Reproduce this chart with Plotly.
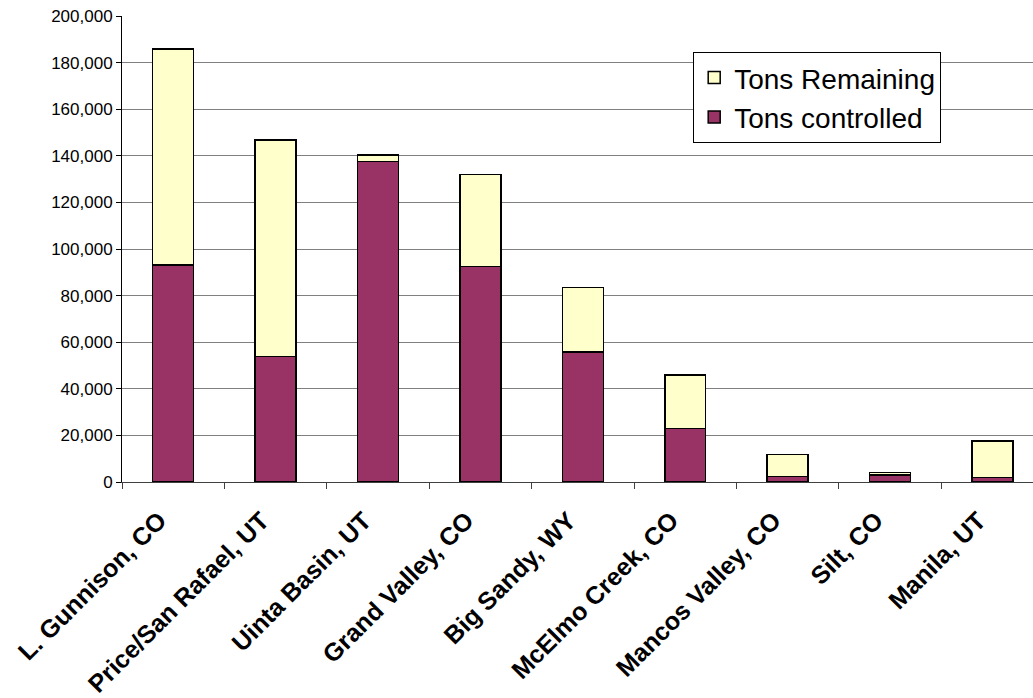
import plotly.graph_objects as go

categories = ["L. Gunnison, CO", "Price/San Rafael, UT", "Uinta Basin, UT", "Grand Valley, CO",
              "Big Sandy, WY", "McElmo Creek, CO", "Mancos Valley, CO", "Silt, CO", "Manila, UT"]
tons_controlled = [93100, 53800, 137500, 92400, 55800, 23000, 2300, 2900, 2000]
tons_remaining = [92700, 93000, 2800, 39600, 27750, 22900, 9600, 1100, 15500]
y_ticks = [0, 20000, 40000, 60000, 80000, 100000, 120000, 140000, 160000, 180000, 200000]

FONT = "Arial, Liberation Sans, sans-serif"

fig = go.Figure()
fig.add_trace(go.Bar(
    x=categories, y=tons_controlled, name="Tons controlled",
    marker=dict(color="#993366", line=dict(color="black", width=1.5)),
    width=0.4,
))
fig.add_trace(go.Bar(
    x=categories, y=tons_remaining, name="Tons Remaining",
    marker=dict(color="#FFFFCC", line=dict(color="black", width=1.5)),
    width=0.4,
))

fig.update_layout(
    width=1033, height=698,
    barmode="stack",
    plot_bgcolor="white", paper_bgcolor="white",
    margin=dict(l=122, r=0, t=16, b=216),
    font=dict(family=FONT, color="black"),
    legend=dict(
        traceorder="reversed",
        x=0.627, y=0.923, xanchor="left", yanchor="top",
        bgcolor="white", bordercolor="black", borderwidth=1,
        font=dict(family=FONT, size=28, color="black"),
        tracegroupgap=0,
        itemwidth=30,
    ),
    showlegend=True,
)
fig.update_xaxes(
    type="category",
    range=[-0.5, 8.396],
    showgrid=False,
    showline=True, linecolor="#404040", linewidth=1,
    ticks="outside", tickson="boundaries", ticklen=6, tickcolor="#404040",
    tickangle=-45,
    ticklabelstandoff=13,
    ticklabelshift=-14,
    tickfont=dict(family=FONT, size=25, color="black", weight="bold"),
)
fig.update_yaxes(
    range=[0, 200000],
    tickvals=y_ticks,
    tickformat=",d",
    showgrid=True, gridcolor="#808080", gridwidth=1,
    zeroline=False,
    showline=True, linecolor="black", linewidth=1,
    ticks="outside", ticklen=5, tickcolor="black",
    tickfont=dict(family=FONT, size=17, color="black"),
)

fig.write_html("out.html")
